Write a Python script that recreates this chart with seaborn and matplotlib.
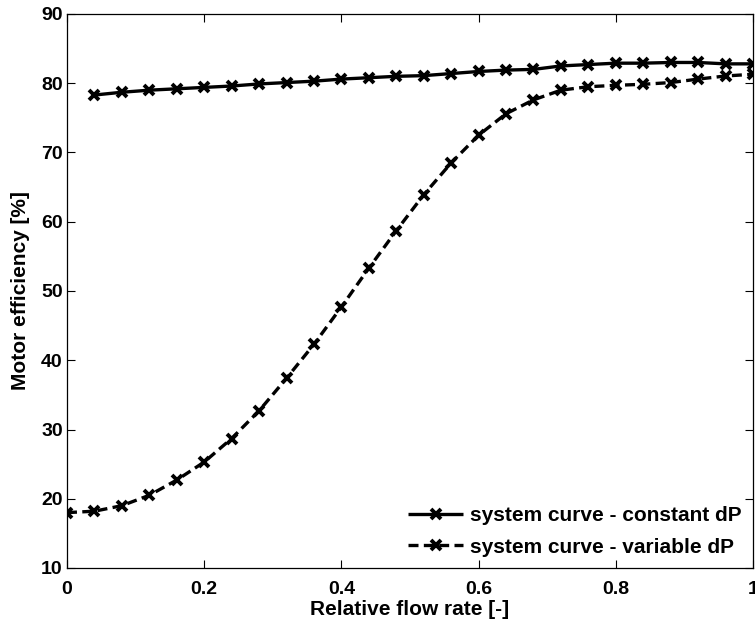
import numpy as np
import pandas as pd
import matplotlib
matplotlib.use("Agg")
import matplotlib.pyplot as plt
import seaborn as sns

x_const = [0.04, 0.08, 0.12, 0.16, 0.20, 0.24, 0.28, 0.32, 0.36, 0.40, 0.44, 0.48, 0.52,
           0.56, 0.60, 0.64, 0.68, 0.72, 0.76, 0.80, 0.84, 0.88, 0.92, 0.96, 1.00]
y_const = [78.3, 78.7, 79.0, 79.2, 79.4, 79.6, 79.9, 80.1, 80.3, 80.6, 80.8, 81.0, 81.1,
           81.4, 81.7, 81.9, 82.0, 82.5, 82.7, 82.9, 82.9, 83.0, 83.0, 82.8, 82.8]
x_var = [0.00, 0.04, 0.08, 0.12, 0.16, 0.20, 0.24, 0.28, 0.32, 0.36, 0.40, 0.44, 0.48,
         0.52, 0.56, 0.60, 0.64, 0.68, 0.72, 0.76, 0.80, 0.84, 0.88, 0.92, 0.96, 1.00]
y_var = [18.0, 18.2, 19.0, 20.5, 22.7, 25.3, 28.7, 32.7, 37.4, 42.3, 47.7, 53.3, 58.7,
         63.9, 68.5, 72.5, 75.6, 77.6, 79.0, 79.5, 79.7, 79.85, 80.1, 80.6, 81.05, 81.3]
labels = ["system curve - constant dP", "system curve - variable dP"]
x_ticks = [0, 0.2, 0.4, 0.6, 0.8, 1]
x_ticklabels = ["0", "0.2", "0.4", "0.6", "0.8", "1"]
y_ticks = [10, 20, 30, 40, 50, 60, 70, 80, 90]

df = pd.concat([
    pd.DataFrame({"x": x_const, "y": y_const, "series": labels[0]}),
    pd.DataFrame({"x": x_var, "y": y_var, "series": labels[1]}),
], ignore_index=True)

sns.set_style("ticks")
plt.rcParams["font.family"] = ["Liberation Sans", "DejaVu Sans"]
plt.rcParams["font.weight"] = "bold"
plt.rcParams["text.color"] = "black"
plt.rcParams["axes.labelcolor"] = "black"
plt.rcParams["xtick.color"] = "black"
plt.rcParams["ytick.color"] = "black"

fig = plt.figure(figsize=(7.55, 6.25), dpi=100)
ax = fig.add_axes([0.0887, 0.0912, 0.9087, 0.8864])

sns.lineplot(data=df, x="x", y="y", style="series", hue="series",
             palette=["black", "black"], dashes={labels[0]: (1, 0), labels[1]: (3, 1.6)},
             markers={labels[0]: "x", labels[1]: "x"}, markersize=7,
             markeredgewidth=2.8, markeredgecolor="black", linewidth=2.4,
             ax=ax, legend=True)

ax.set_xlim(0, 1)
ax.set_ylim(10, 90)
ax.set_xticks(x_ticks)
ax.set_xticklabels(x_ticklabels)
ax.set_yticks(y_ticks)
ax.tick_params(direction="in", top=True, right=True, length=6, width=0.8,
               labelsize=14, colors="black")
ax.tick_params(axis="x", pad=9)
ax.tick_params(axis="y", pad=3)
for lab in ax.get_xticklabels() + ax.get_yticklabels():
    lab.set_fontweight("bold")
    lab.set_color("black")
for sp in ax.spines.values():
    sp.set_linewidth(0.9)
    sp.set_color("black")
ax.set_xlabel("Relative flow rate [-]", fontsize=15, fontweight="bold", labelpad=2,
              color="black")
ax.set_ylabel("Motor efficiency [%]", fontsize=15, fontweight="bold", labelpad=8,
              color="black")

leg = ax.legend(loc="lower right", frameon=False, handlelength=2.6,
                handletextpad=0.35, borderaxespad=0.15, labelspacing=0.6,
                prop={"weight": "bold", "size": 15})
for line in leg.get_lines():
    line.set_linewidth(2.4)
    line.set_markeredgecolor("black")
    line.set_markeredgewidth(2.8)
for t in leg.get_texts():
    t.set_color("black")

fig.savefig("out.png", dpi=100)
